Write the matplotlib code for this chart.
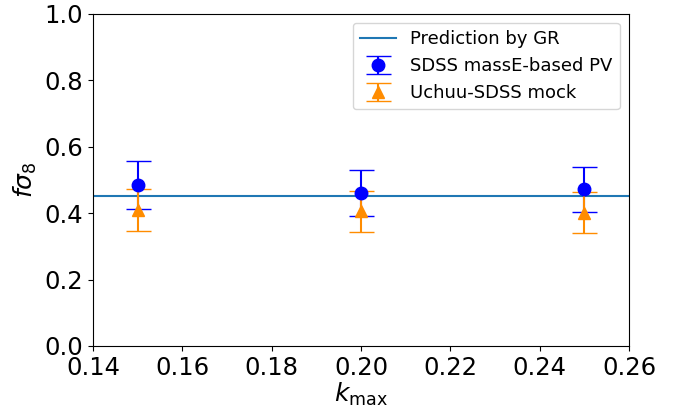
import matplotlib
matplotlib.use("Agg")
import matplotlib.pyplot as plt
import numpy as np

kmax = [0.15, 0.20, 0.25]

# f sigma_8 measured from SDSS peculiar velocities
fs8_sdss = [0.484, 0.460, 0.471]
err_sdss = [0.072, 0.069, 0.067]

# Uchuu-SDSS mock mean
fs8_mock = [0.410, 0.405, 0.401]
err_mock = [0.063, 0.061, 0.062]

fs8_gr = 0.45

fig = plt.figure(figsize=(6.75, 4.08), dpi=100)
ax = fig.add_axes([0.1378, 0.152, 0.7941, 0.8144])

ax.axhline(fs8_gr, color='tab:blue', lw=1.5, label='Prediction by GR')
ax.errorbar(kmax, fs8_sdss, yerr=err_sdss, fmt='o', color='blue', ms=9,
            capsize=9, elinewidth=1.5, label='SDSS massE-based PV')
ax.errorbar(kmax, fs8_mock, yerr=err_mock, fmt='^', color='darkorange', ms=9,
            capsize=9, elinewidth=1.5, label='Uchuu-SDSS mock')

ax.set_xlim(0.14, 0.26)
ax.set_ylim(0.0, 1.0)
ax.set_xticks(np.arange(0.14, 0.261, 0.02))
ax.set_yticks(np.arange(0.0, 1.01, 0.2))
ax.tick_params(labelsize=17.5)
ax.set_xlabel(r'$k_{\rm max}$', fontsize=18, labelpad=1)
ax.set_ylabel(r'$f\sigma_8$', fontsize=18)
ax.legend(loc='upper right', fontsize=13)

fig.savefig('out.png', dpi=100)
